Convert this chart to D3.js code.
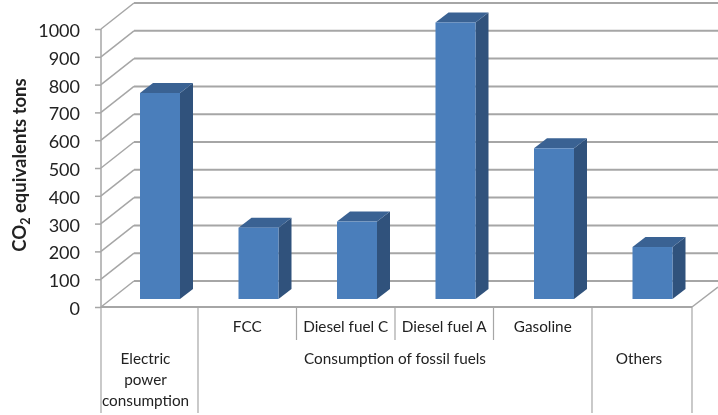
<!DOCTYPE html>
<html>
<head>
<meta charset="utf-8">
<script src="https://d3js.org/d3.v7.min.js"></script>
<style>
html,body{margin:0;padding:0;background:#fff;}
svg{display:block;filter:blur(0.4px);}
text{font-family:Lato,"Liberation Sans",sans-serif;fill:#222;}
</style>
</head>
<body>
<svg id="chart" width="718" height="415"></svg>
<script>
const categories = ["Electric power consumption","FCC","Diesel fuel C","Diesel fuel A","Gasoline","Others"];
const values = [745,258,280,1000,545,188];
const tickValues = [0,100,200,300,400,500,600,700,800,900,1000];
const groups = [
  {label:["Electric","power","consumption"], from:0, to:1, shift:-4},
  {label:["Consumption of fossil fuels"], from:1, to:5, shift:0},
  {label:["Others"], from:5, to:6, shift:-3}
];
const subLabels = ["","FCC","Diesel fuel C","Diesel fuel A","Gasoline",""];
const yTitle = ["CO","2"," equivalents tons"];

const W=718,H=415;
const svg=d3.select("#chart");
const x=d3.scaleBand().domain(d3.range(categories.length)).range([101,692]).paddingInner(0).paddingOuter(0);
const yFront=d3.scaleLinear().domain([0,1000]).range([307,29]);
const depthX=33, depthY=26;
const barDX=13, barDY=10;
const barBase=299;
const yBar=d3.scaleLinear().domain([0,1000]).range([barBase,22.5]);
const grid="#a6a6a6";

const g=svg.append("g");
g.selectAll("line.back").data(tickValues).join("line")
  .attr("x1",d=>x.range()[0]+depthX).attr("x2",W)
  .attr("y1",d=>yFront(d)-depthY).attr("y2",d=>yFront(d)-depthY)
  .attr("stroke",grid).attr("stroke-width",2);
g.selectAll("line.diag").data(tickValues).join("line")
  .attr("x1",x.range()[0]).attr("x2",x.range()[0]+depthX)
  .attr("y1",d=>yFront(d)).attr("y2",d=>yFront(d)-depthY)
  .attr("stroke",grid).attr("stroke-width",1.5);
g.append("line").attr("x1",x.range()[1]).attr("y1",yFront(0)).attr("x2",W).attr("y2",yFront(0)-20)
  .attr("stroke",grid).attr("stroke-width",1.5);
const axis=d3.axisLeft(yFront).tickValues(tickValues).tickSize(6).tickFormat(d3.format("d"));
const ax=svg.append("g").attr("transform",`translate(${x.range()[0]},0)`).call(axis);
ax.selectAll("path,line").attr("stroke",grid).attr("stroke-width",1.5);
ax.select("path").attr("d",`M0,${yFront(1000)}V${yFront(0)}`);
ax.selectAll("text").attr("font-size",18).attr("fill","#222").attr("x",-21).attr("dy","0.42em")
  .style("font-family",'Lato,sans-serif');
svg.append("line").attr("x1",x.range()[0]).attr("x2",x.range()[1]).attr("y1",yFront(0)).attr("y2",yFront(0))
  .attr("stroke",grid).attr("stroke-width",2);

const bw=40;
const bars=svg.selectAll("g.bar").data(values).join("g").attr("class","bar");
const bx=i=>x(i)+39;
bars.append("path").attr("fill","#30527c")
  .attr("d",(d,i)=>`M${bx(i)+bw},${yBar(d)}L${bx(i)+bw+barDX},${yBar(d)-barDY}V${barBase-barDY}L${bx(i)+bw},${barBase}Z`);
bars.append("path").attr("fill","#3a6293")
  .attr("d",(d,i)=>`M${bx(i)},${yBar(d)}L${bx(i)+barDX},${yBar(d)-barDY}H${bx(i)+bw+barDX}L${bx(i)+bw},${yBar(d)}Z`);
bars.append("rect").attr("fill","#4a7ebb")
  .attr("x",(d,i)=>bx(i)).attr("y",d=>yBar(d)).attr("width",bw).attr("height",d=>barBase-yBar(d));

const edges=d3.range(categories.length+1);
const isGroupEdge=i=>groups.some(g=>g.from===i||g.to===i);
const sepX=i=>i===6?x.range()[1]:(i===0?x(0):x(i)-1.5);
svg.selectAll("line.sep").data(edges).join("line")
  .attr("x1",sepX).attr("x2",sepX)
  .attr("y1",yFront(0)).attr("y2",i=>isGroupEdge(i)?413:340)
  .attr("stroke",grid).attr("stroke-width",1.2);

svg.selectAll("text.sub").data(subLabels).join("text")
  .attr("x",(d,i)=>x(i)+x.bandwidth()/2-1.5).attr("y",332)
  .attr("text-anchor","middle").attr("font-size",15.3).text(d=>d);
groups.forEach(gr=>{
  const cx=(sepX(gr.from)+sepX(gr.to))/2+gr.shift;
  gr.label.forEach((t,i)=>{
    svg.append("text").attr("x",cx).attr("y",364+i*21).attr("text-anchor","middle")
      .attr("font-size",15.3).text(t);
  });
});
const t=svg.append("text").attr("transform","translate(26,165) rotate(-90)")
  .attr("text-anchor","middle").attr("font-size",18.5).attr("font-weight","bold");
t.append("tspan").text(yTitle[0]);
t.append("tspan").attr("dy",4).attr("font-size",12.5).text(yTitle[1]);
t.append("tspan").attr("dy",-4).text(yTitle[2]);
</script>
</body>
</html>
